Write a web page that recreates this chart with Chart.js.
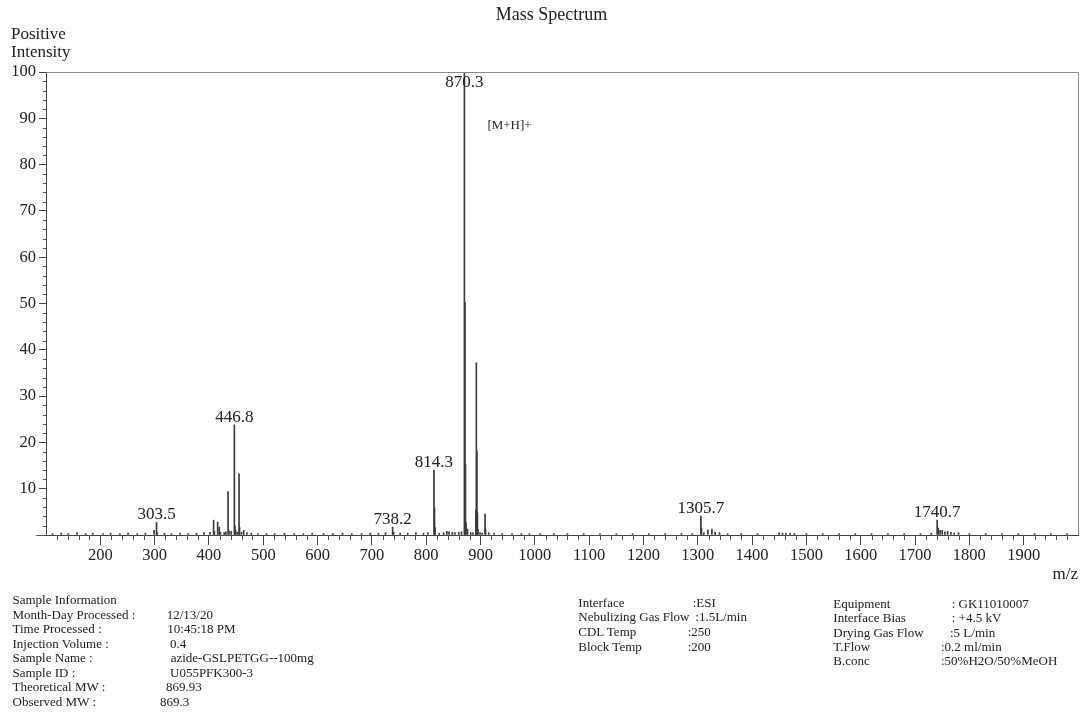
<!DOCTYPE html>
<html>
<head>
<meta charset="utf-8">
<title>Mass Spectrum</title>
<script src="https://cdn.jsdelivr.net/npm/chart.js@4.4.1/dist/chart.umd.min.js"></script>
<style>
  html, body { margin: 0; padding: 0; background: #fff; }
  body {
    width: 1089px; height: 715px; position: relative; overflow: hidden;
    font-family: "Liberation Serif", "Times New Roman", serif; color: #222;
  }
  #ms { position: absolute; left: 0; top: 0; }
  .t { position: absolute; white-space: pre; line-height: 1; }
</style>
</head>
<body>
<canvas id="ms" width="1089" height="715"></canvas>
<div id="texts"></div>
<script>
// main peaks (m/z, relative intensity %)
const peakMz = [
  299, 303.5, 408.6, 416, 419, 435.2, 446.8, 447.8, 455.4, 456.4, 464,
  738.2, 814.3, 815.3, 816.3,
  870.3, 871.3, 872.3, 873.3, 876, 891.3, 892.3, 893.3, 894.3, 895.3, 908.3, 909.3,
  1305.7, 1306.7, 1318.7, 1326, 1740.7, 1742.7, 1746, 1750, 1760
];
const peakIntensity = [
  1.0, 2.7, 3.2, 2.8, 1.7, 9.4, 23.8, 2.0, 13.2, 1.6, 1.0,
  1.7, 14.0, 5.9, 1.6,
  100, 50.3, 15.3, 2.7, 1.3, 5.4, 37.2, 18.2, 4.8, 1.2, 4.5, 1.3,
  4.1, 1.5, 1.1, 1.3, 3.2, 1.5, 1.0, 1.0, 0.8
];

// small background signals
const noiseMz = [
  112, 128, 141, 157, 173, 186, 205, 219, 236, 251, 268, 283, 305, 318, 331, 347,
  362, 377, 391, 402, 410, 421, 428, 431, 437, 441, 449, 452, 460, 470, 478, 490,
  506, 521, 539, 557, 574, 590, 611, 628, 646, 663, 681, 697, 712, 725, 740, 752,
  766, 781, 795, 803, 824, 832, 838, 842, 848, 853, 860, 865, 882, 886, 899, 903,
  915, 925, 940, 958, 975, 990, 1010, 1035, 1060, 1090, 1120, 1150, 1180, 1210,
  1240, 1270, 1290, 1311, 1332, 1340, 1355, 1380, 1410, 1450, 1456, 1462, 1470,
  1478, 1500, 1530, 1560, 1590, 1620, 1650, 1680, 1710, 1730, 1755, 1766, 1772,
  1780, 1800, 1830, 1860, 1890, 1920, 1950, 1980
];
const noiseIntensity = [
  0.3, 0.4, 0.3, 0.5, 0.3, 0.4, 0.3, 0.4, 0.3, 0.4, 0.3, 0.4, 0.5, 0.4, 0.3, 0.4,
  0.3, 0.4, 0.5, 0.6, 0.8, 0.6, 0.5, 0.7, 0.9, 0.8, 1.0, 0.6, 0.6, 0.5, 0.4, 0.3,
  0.3, 0.3, 0.4, 0.3, 0.3, 0.4, 0.3, 0.3, 0.4, 0.3, 0.3, 0.4, 0.4, 0.5, 0.6, 0.4,
  0.4, 0.5, 0.4, 0.5, 0.4, 0.5, 0.8, 0.7, 0.6, 0.5, 0.6, 0.7, 0.5, 0.5, 0.5, 0.4,
  0.5, 0.4, 0.3, 0.3, 0.3, 0.3, 0.3, 0.3, 0.3, 0.3, 0.3, 0.3, 0.3, 0.3,
  0.3, 0.3, 0.3, 0.5, 0.6, 0.5, 0.3, 0.3, 0.3, 0.5, 0.4, 0.4, 0.4,
  0.3, 0.3, 0.3, 0.3, 0.3, 0.3, 0.3, 0.3, 0.3, 0.4, 0.7, 0.6, 0.4,
  0.5, 0.3, 0.3, 0.3, 0.3, 0.3, 0.3, 0.3
];

// annotated peaks
const labelMz = [303.5, 446.8, 738.2, 814.3, 870.3, 1305.7, 1740.7];
const adductNote = "[M+H]+";

// axes
const xMin = 100, xMax = 2000, xStep = 100, xMinor = 20;
const yMin = 0, yMax = 100, yStep = 10, yMinor = 2;

const FONT = '"Liberation Serif", "Times New Roman", serif';

const spectrum = peakMz.map((m, i) => ({ x: m, y: peakIntensity[i] }))
  .concat(noiseMz.map((m, i) => ({ x: m, y: noiseIntensity[i] })));

const decor = {
  id: "decor",
  afterDraw(chart) {
    const { ctx, chartArea: a, scales: { x, y } } = chart;
    ctx.save();
    ctx.lineWidth = 1;

    // top + right frame
    ctx.strokeStyle = "#8c8c8c";
    ctx.beginPath();
    ctx.moveTo(a.left, a.top + 0.5);
    ctx.lineTo(a.right + 0.5, a.top + 0.5);
    ctx.lineTo(a.right + 0.5, a.bottom);
    ctx.stroke();

    // minor ticks and the x axis stub left of the y axis
    ctx.strokeStyle = "#555";
    ctx.beginPath();
    for (let v = xMin + xMinor; v < xMax; v += xMinor) {
      if (v % xStep === 0) continue;
      const px = Math.round(x.getPixelForValue(v)) + 0.5;
      ctx.moveTo(px, a.bottom);
      ctx.lineTo(px, a.bottom + 5);
    }
    for (let v = yMin + yMinor; v < yMax; v += yMinor) {
      if (v % yStep === 0) continue;
      const py = Math.round(y.getPixelForValue(v)) + 0.5;
      ctx.moveTo(a.left - 3, py);
      ctx.lineTo(a.left, py);
    }
    const by = Math.round(a.bottom) + 0.5;
    ctx.moveTo(a.left - 10, by);
    ctx.lineTo(a.left, by);
    ctx.stroke();

    // peak labels
    ctx.fillStyle = "#222";
    ctx.font = "17px " + FONT;
    ctx.textAlign = "center";
    ctx.textBaseline = "alphabetic";
    labelMz.forEach((m) => {
      const h = peakIntensity[peakMz.indexOf(m)];
      const px = x.getPixelForValue(m);
      let base = y.getPixelForValue(h) - 3;
      if (base - 13 < a.top) base = a.top + 15;
      ctx.fillText(m.toFixed(1), px, base);
    });

    ctx.font = "13px " + FONT;
    ctx.textAlign = "left";
    ctx.fillText(adductNote, x.getPixelForValue(870.3) + 23, a.top + 57);
    ctx.restore();
  }
};

new Chart(document.getElementById("ms"), {
  type: "bar",
  data: {
    datasets: [{
      data: spectrum,
      backgroundColor: "#3a3a3a",
      borderWidth: 0,
      barThickness: 1
    }]
  },
  options: {
    responsive: false,
    animation: false,
    events: [],
    layout: { padding: { top: 72, right: 11, left: 0, bottom: 0 } },
    plugins: { legend: { display: false }, tooltip: { enabled: false }, title: { display: false } },
    scales: {
      x: {
        type: "linear",
        min: xMin,
        max: xMax,
        offset: false,
        afterFit: (s) => { s.height = 180; },
        border: { display: true, color: "#444", width: 1 },
        grid: {
          offset: false,
          drawOnChartArea: false,
          drawTicks: true,
          tickLength: 10,
          tickColor: (c) => (c.tick && (c.tick.value === xMin || c.tick.value === xMax)) ? "rgba(0,0,0,0)" : "#444"
        },
        ticks: {
          stepSize: xStep,
          autoSkip: false,
          maxRotation: 0,
          padding: 1,
          color: "#222",
          font: { family: FONT, size: 16.5 },
          callback: (v) => (v === xMin || v === xMax) ? "" : String(v)
        }
      },
      y: {
        min: yMin,
        max: yMax,
        afterFit: (s) => { s.width = 46; },
        border: { display: true, color: "#444", width: 1 },
        grid: {
          drawOnChartArea: false,
          drawTicks: true,
          tickLength: 7,
          tickColor: (c) => (c.tick && c.tick.value === yMin) ? "rgba(0,0,0,0)" : "#444"
        },
        ticks: {
          stepSize: yStep,
          padding: 3,
          color: "#222",
          font: { family: FONT, size: 16.5 },
          callback: (v) => v === yMin ? "" : String(v)
        }
      }
    }
  },
  plugins: [decor]
});

// text around the plot: [text, x, baseline, size, align]
const pageTexts = [
  ["Mass Spectrum", 551.5, 20.5, 18, "center"],
  ["Positive", 11, 39.3, 17],
  ["Intensity", 11, 57.3, 17],
  ["m/z", 1078, 579, 17, "right"]
];

const sampleLabels = ["Sample Information", "Month-Day Processed :", "Time Processed :", "Injection Volume :",
  "Sample Name :", "Sample ID :", "Theoretical MW :", "Observed MW :"];
const sampleValues = ["", "12/13/20", "10:45:18 PM", "0.4", "azide-GSLPETGG--100mg", "U055PFK300-3", "869.93", "869.3"];
const sampleValueX = [0, 166.7, 167.3, 170, 170.7, 170, 166, 160];

const sourceLabels = ["Interface", "Nebulizing Gas Flow", "CDL Temp", "Block Temp"];
const sourceValues = [":ESI", ":1.5L/min", ":250", ":200"];
const sourceValueX = [692.7, 695.3, 687.7, 687.7];

const instrLabels = ["Equipment", "Interface Bias", "Drying Gas Flow", "T.Flow", "B.conc"];
const instrValues = [": GK11010007", ": +4.5 kV", ":5 L/min", ":0.2 ml/min", ":50%H2O/50%MeOH"];
const instrValueX = [951.7, 951.7, 950, 941, 941];

sampleLabels.forEach((s, i) => {
  const b = 604.3 + i * 14.45;
  pageTexts.push([s, 12.5, b, 13]);
  if (sampleValues[i]) pageTexts.push([sampleValues[i], sampleValueX[i], b, 13]);
});
sourceLabels.forEach((s, i) => {
  const b = 606.7 + i * 14.55;
  pageTexts.push([s, 578.3, b, 13]);
  pageTexts.push([sourceValues[i], sourceValueX[i], b, 13]);
});
instrLabels.forEach((s, i) => {
  const b = 607.7 + i * 14.35;
  pageTexts.push([s, 833.3, b, 13]);
  pageTexts.push([instrValues[i], instrValueX[i], b, 13]);
});

const holder = document.getElementById("texts");
pageTexts.forEach(([text, x, base, size, align]) => {
  const el = document.createElement("span");
  el.className = "t";
  el.textContent = text;
  el.style.fontSize = size + "px";
  el.style.top = (base - 0.8375 * size).toFixed(1) + "px";
  if (align === "center") {
    el.style.left = x + "px";
    el.style.transform = "translateX(-50%)";
  } else if (align === "right") {
    el.style.right = (1089 - x) + "px";
  } else {
    el.style.left = x + "px";
  }
  holder.appendChild(el);
});
</script>
</body>
</html>
